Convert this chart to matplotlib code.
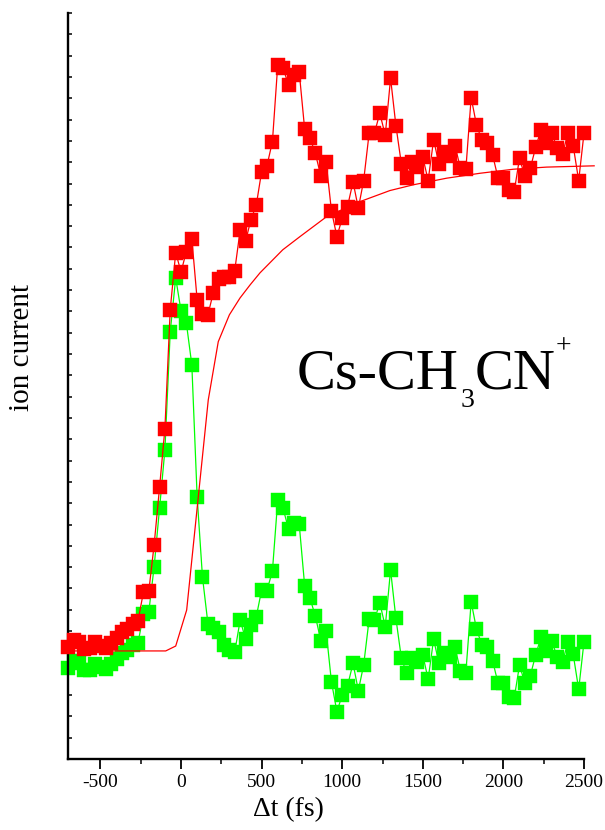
import matplotlib
matplotlib.use("Agg")
import matplotlib.pyplot as plt
from matplotlib.ticker import MultipleLocator, NullFormatter

# delay times (fs), common to both data series
delay_fs = [-700, -667, -633, -600, -567, -533, -500, -467, -433, -400,
            -367, -333, -300, -267, -233, -200, -167, -133, -100, -67,
            -33, 0, 33, 67, 100, 133, 167, 200, 233, 267,
            300, 333, 367, 400, 433, 467, 500, 533, 567, 600,
            633, 667, 700, 733, 767, 800, 833, 867, 900, 933,
            967, 1000, 1033, 1067, 1100, 1133, 1167, 1200, 1233, 1267,
            1300, 1333, 1367, 1400, 1433, 1467, 1500, 1533, 1567, 1600,
            1633, 1667, 1700, 1733, 1767, 1800, 1833, 1867, 1900, 1933,
            1967, 2000, 2033, 2067, 2100, 2133, 2167, 2200, 2233, 2267,
            2300, 2333, 2367, 2400, 2433, 2467, 2500]

# total ion current (red squares), arbitrary units
red_signal = [5.26, 5.58, 5.49, 5.16, 5.21, 5.49, 5.30, 5.21, 5.44, 5.68,
              5.96, 6.10, 6.34, 6.48, 7.84, 7.88, 10.04, 12.76, 15.50, 21.08,
              23.76, 22.85, 23.81, 24.42, 21.54, 20.87, 20.84, 21.88, 22.52, 22.62,
              22.63, 22.91, 24.82, 24.28, 25.29, 26.00, 27.56, 27.83, 28.97, 32.57,
              32.41, 31.63, 32.10, 32.25, 29.55, 29.13, 28.42, 27.37, 28.02, 25.73,
              24.51, 25.37, 25.92, 27.08, 25.84, 27.14, 29.36, 29.36, 30.30, 29.27,
              31.94, 29.72, 27.92, 27.25, 28.03, 27.79, 28.24, 27.14, 29.05, 27.92,
              28.50, 28.30, 28.78, 27.72, 27.67, 31.03, 29.75, 29.02, 28.89, 28.34,
              27.25, 27.26, 26.70, 26.62, 28.19, 27.33, 27.72, 28.69, 29.52, 28.89,
              29.39, 28.66, 28.39, 29.36, 28.77, 27.14, 29.36]

# oscillatory component (green squares), arbitrary units
green_signal = [4.27, 4.60, 4.50, 4.18, 4.18, 4.46, 4.32, 4.22, 4.46, 4.69,
                4.97, 5.11, 5.35, 5.44, 6.80, 6.90, 9.01, 11.78, 14.50, 20.04,
                22.57, 21.02, 20.46, 18.49, 12.29, 8.54, 6.34, 6.13, 5.97, 5.35,
                5.11, 5.01, 6.52, 5.63, 6.29, 6.68, 7.93, 7.90, 8.82, 12.15,
                11.76, 10.79, 11.09, 11.03, 8.13, 7.54, 6.72, 5.55, 6.02, 3.63,
                2.22, 3.00, 3.43, 4.49, 3.21, 4.41, 6.56, 6.52, 7.33, 6.21,
                8.87, 6.60, 4.73, 4.02, 4.73, 4.57, 4.88, 3.74, 5.62, 4.49,
                4.96, 4.80, 5.24, 4.14, 4.05, 7.38, 6.09, 5.35, 5.24, 4.61,
                3.55, 3.55, 2.92, 2.85, 4.41, 3.55, 3.91, 4.88, 5.71, 5.08,
                5.55, 4.80, 4.55, 5.48, 4.91, 3.27, 5.50]

# fitted rise curve (thin red line)
fit_t = [-700, -95, -33, 35, 169, 231, 300, 366, 428, 490, 631, 738, 904,
         1110, 1296, 1441, 1648, 1854, 2061, 2268, 2563]
fit_y = [5.07, 5.07, 5.30, 6.99, 16.85, 19.58, 20.84, 21.63, 22.24, 22.81,
         23.89, 24.51, 25.45, 26.15, 26.67, 26.94, 27.25, 27.48, 27.67, 27.77,
         27.83]

x_ticks = [-500, 0, 500, 1000, 1500, 2000, 2500]
x_ticklabels = ["-500", "0", "500", "1000", "1500", "2000", "2500"]

SERIF = ["Liberation Serif", "DejaVu Serif"]
RED = "#ff0000"
GREEN = "#00ff00"

fig = plt.figure(figsize=(6.05, 8.30), dpi=100)
ax = fig.add_axes([68.2 / 605, 1 - 759 / 830, (584 - 68.2) / 605, (759 - 13) / 830])

ax.plot(delay_fs, green_signal, color=GREEN, lw=0.9, marker="s", ms=9.4,
        mec=GREEN, mew=0.3, clip_on=False, zorder=2)
ax.plot(fit_t, fit_y, color=RED, lw=0.9, clip_on=False, zorder=3)
ax.plot(delay_fs, red_signal, color=RED, lw=0.9, marker="s", ms=9.4,
        mec=RED, mew=0.3, clip_on=False, zorder=4)

ax.set_xlim(-700, 2500)
ax.set_ylim(0, 35)

for side in ("top", "right"):
    ax.spines[side].set_visible(False)
for side in ("left", "bottom"):
    ax.spines[side].set_linewidth(1.7)

ax.set_xticks(x_ticks)
ax.set_xticklabels(x_ticklabels, fontfamily=SERIF, fontsize=14)
ax.xaxis.set_minor_locator(MultipleLocator(250))
ax.tick_params(axis="x", which="major", direction="out", length=7, width=1.3, pad=4)
ax.tick_params(axis="x", which="minor", direction="out", length=3.5, width=1.1)

ax.set_yticks([])
ax.yaxis.set_minor_locator(MultipleLocator(1))
ax.yaxis.set_minor_formatter(NullFormatter())
ax.tick_params(axis="y", which="minor", direction="in", length=3, width=1.1)

fig.text(22 / 605, 1 - 347 / 830, "ion current", rotation=90, ha="center",
         va="center", fontsize=21, fontfamily=SERIF)
fig.text(288 / 605, 1 - 810 / 830, "\u0394t (fs)", ha="center", va="center",
         fontsize=20, fontfamily=SERIF)

# species label Cs-CH3CN+ built from pieces
base_y = 1 - 388 / 830
t1 = fig.text(297 / 605, base_y, "Cs-CH", fontsize=42, fontfamily=SERIF,
              ha="left", va="baseline")
t2 = ax.annotate("3", xy=(1, base_y), xycoords=(t1, "figure fraction"),
                 xytext=(1, -13.7), textcoords="offset points", fontsize=20,
                 fontfamily=SERIF, ha="left", va="baseline", annotation_clip=False)
t3 = ax.annotate("CN", xy=(1, base_y), xycoords=(t2, "figure fraction"),
                 xytext=(0, 0), textcoords="offset points", fontsize=42,
                 fontfamily=SERIF, ha="left", va="baseline", annotation_clip=False)
t4 = ax.annotate("+", xy=(1, base_y), xycoords=(t3, "figure fraction"),
                 xytext=(0.5, 25), textcoords="offset points", fontsize=20,
                 fontfamily=SERIF, ha="left", va="baseline", annotation_clip=False)

fig.savefig("out.png", dpi=100)
